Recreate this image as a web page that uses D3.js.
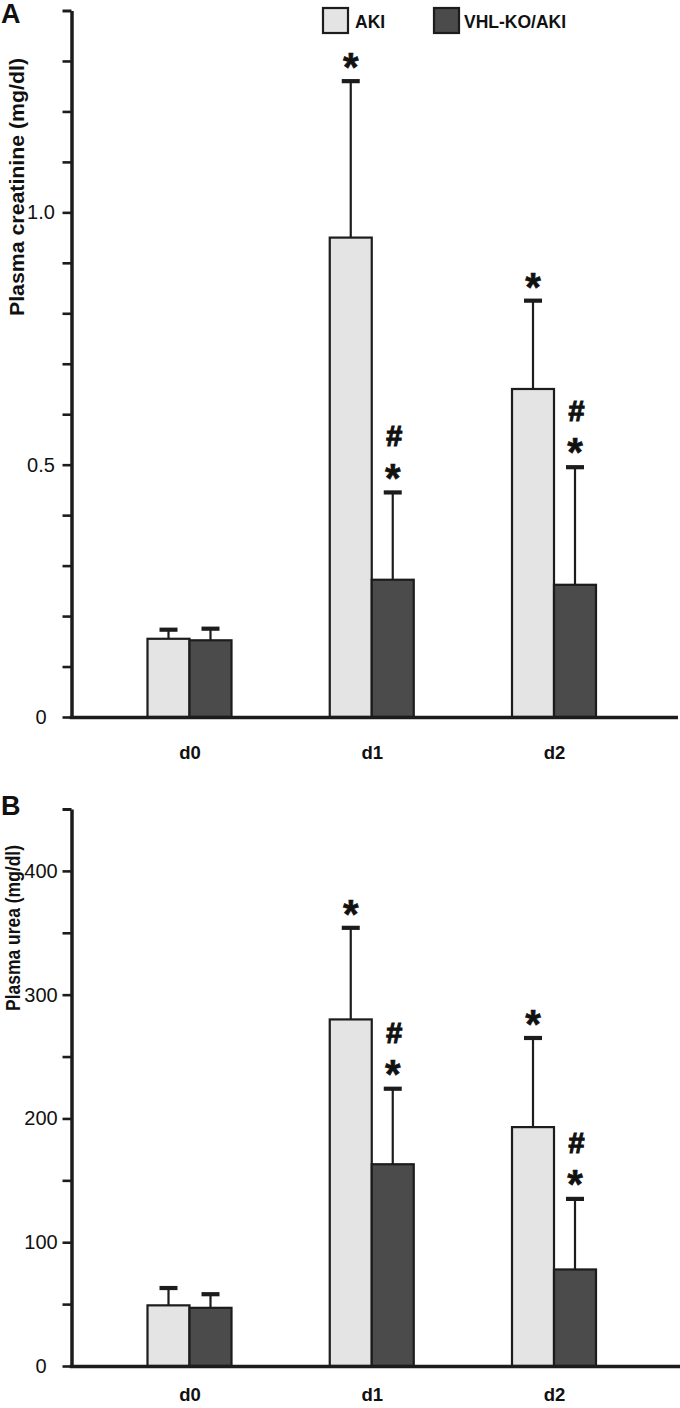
<!DOCTYPE html>
<html>
<head>
<meta charset="utf-8">
<script src="https://cdn.jsdelivr.net/npm/d3@7/dist/d3.min.js"></script>
<style>
  html, body { margin: 0; padding: 0; background: #fff; }
  svg { display: block; }
  text { font-family: "Liberation Sans", Arial, Helvetica, sans-serif; fill: #111; }
</style>
</head>
<body>
<script>
// ---------------- DATA ----------------
const categories = ["d0", "d1", "d2"];
const seriesNames = ["AKI", "VHL-KO/AKI"];

// Panel A: plasma creatinine (mg/dl)
const creatAKI    = [0.155, 0.95, 0.65];
const creatAKIErr = [0.018, 0.31, 0.175];
const creatKO     = [0.152, 0.272, 0.262];
const creatKOErr  = [0.023, 0.173, 0.233];
const creatSigAKI = ["", "*", "*"];
const creatSigKO  = ["", "#*", "#*"];
const creatTickLabels = [0, 0.5, 1.0];
const creatMinorStep = 0.1;
const creatMax = 1.4;

// Panel B: plasma urea (mg/dl)
const ureaAKI    = [49, 280, 193];
const ureaAKIErr = [14, 74, 72];
const ureaKO     = [47, 163, 78];
const ureaKOErr  = [11, 61, 57];
const ureaSigAKI = ["", "*", "*"];
const ureaSigKO  = ["", "#*", "#*"];
const ureaTickLabels = [0, 100, 200, 300, 400];
const ureaMinorStep = 50;
const ureaMax = 450;

// ---------------- LAYOUT ----------------
const W = 680, H = 1408;
const svg = d3.select("body").append("svg").attr("width", W).attr("height", H);

const colors = { "AKI": "#e4e4e4", "VHL-KO/AKI": "#4b4b4b" };
const barW = 42;
const axisX = 71.5;
const ink = "#1c1c1c";

function drawPanel(cfg) {
  const g = svg.append("g");
  const y = d3.scaleLinear().domain([0, cfg.max]).range([cfg.y0, cfg.yTop]);
  const x = d3.scalePoint().domain(categories).range([189.5, 554]);

  const rows = categories.map((c, i) => ({
    cat: c,
    vals: [
      { s: seriesNames[0], v: cfg.aki[i], e: cfg.akiErr[i], sig: cfg.sigAki[i], off: -barW },
      { s: seriesNames[1], v: cfg.ko[i],  e: cfg.koErr[i],  sig: cfg.sigKo[i],  off: 0 }
    ]
  }));
  const bars = rows.flatMap(r => r.vals.map(v => Object.assign({ cat: r.cat }, v)));

  // bars
  g.selectAll("rect.bar").data(bars).join("rect")
    .attr("class", "bar")
    .attr("x", d => x(d.cat) + d.off)
    .attr("y", d => y(d.v))
    .attr("width", barW)
    .attr("height", d => y(0) - y(d.v))
    .attr("fill", d => colors[d.s])
    .attr("stroke", ink)
    .attr("stroke-width", 2.2);

  // error bars (upper only)
  const cxOf = d => x(d.cat) + d.off + barW / 2;
  g.selectAll("line.err").data(bars).join("line")
    .attr("class", "err")
    .attr("x1", cxOf).attr("x2", cxOf)
    .attr("y1", d => y(d.v)).attr("y2", d => y(d.v + d.e))
    .attr("stroke", ink).attr("stroke-width", 2.2);
  g.selectAll("line.cap").data(bars).join("line")
    .attr("class", "cap")
    .attr("x1", d => cxOf(d) - 9).attr("x2", d => cxOf(d) + 9)
    .attr("y1", d => y(d.v + d.e)).attr("y2", d => y(d.v + d.e))
    .attr("stroke", ink).attr("stroke-width", 4.2);

  // significance markers
  const astFs = 40, hashFs = 29;
  bars.forEach(d => {
    const capY = y(d.v + d.e);
    const cx = cxOf(d);
    if (d.sig.includes("*")) {
      const cy = capY - (d.sig.includes("#") ? 24 : 23);
      g.append("text").attr("x", cx).attr("y", cy + 0.58 * astFs)
        .attr("text-anchor", "middle").attr("font-size", astFs).attr("font-weight", "bold")
        .attr("stroke", "#111").attr("stroke-width", 0.6)
        .text("*");
    }
    if (d.sig.includes("#")) {
      const cy = capY - 56;
      g.append("text").attr("x", cx + 1).attr("y", cy + 0.34 * hashFs)
        .attr("text-anchor", "middle").attr("font-size", hashFs).attr("font-weight", "bold")
        .attr("font-style", "italic")
        .attr("stroke", "#111").attr("stroke-width", 1.1)
        .text("#");
    }
  });

  // y axis
  const nTicks = Math.round(cfg.max / cfg.step);
  const tickVals = d3.range(0, nTicks + 1).map(i => +(i * cfg.step).toFixed(6));
  const isLabel = v => cfg.labels.some(l => Math.abs(l - v) < 1e-9);
  const yAxis = d3.axisLeft(y)
    .tickValues(tickVals)
    .tickSize(9)
    .tickSizeOuter(0)
    .tickFormat(v => isLabel(v) ? cfg.fmt(v) : "");
  const ax = g.append("g").attr("transform", `translate(${axisX},0)`).call(yAxis);
  ax.select(".domain").attr("stroke", ink).attr("stroke-width", 3.5);
  ax.selectAll(".tick line").attr("stroke", ink).attr("stroke-width", 2.6);
  ax.selectAll(".tick text")
    .attr("x", -30.5)
    .attr("text-anchor", "middle")
    .attr("font-size", 20)
    .attr("font-family", "'Liberation Sans', Arial, sans-serif")
    .attr("fill", "#111");
  ax.selectAll(".tick").filter(v => v === cfg.max).select("line").attr("stroke-width", 3);

  // x baseline
  g.append("line")
    .attr("x1", axisX - 1.75).attr("x2", cfg.xEnd)
    .attr("y1", y(0) + 0.5).attr("y2", y(0) + 0.5)
    .attr("stroke", ink).attr("stroke-width", 3.6);

  // x labels
  const xAxis = d3.axisBottom(x).tickSize(0).tickPadding(0);
  const xa = g.append("g").attr("transform", `translate(0,${y(0)})`).call(xAxis);
  xa.select(".domain").remove();
  xa.selectAll(".tick text")
    .attr("y", cfg.xLabelDy).attr("dy", 0)
    .attr("font-size", 18.5).attr("font-weight", "bold")
    .attr("font-family", "'Liberation Sans', Arial, sans-serif")
    .attr("fill", "#111");

  // y title
  g.append("text")
    .attr("transform", `translate(${cfg.titleX},${cfg.titleCY}) rotate(-90)`)
    .attr("text-anchor", "middle")
    .attr("font-size", cfg.titleFs).attr("font-weight", "bold")
    .attr("textLength", cfg.titleLen).attr("lengthAdjust", "spacingAndGlyphs")
    .text(cfg.title);

  // panel letter
  g.append("text").attr("x", 1).attr("y", cfg.letterY)
    .attr("font-size", 27).attr("font-weight", "bold").text(cfg.letter);
}

drawPanel({
  aki: creatAKI, akiErr: creatAKIErr, ko: creatKO, koErr: creatKOErr,
  sigAki: creatSigAKI, sigKo: creatSigKO,
  max: creatMax, step: creatMinorStep, labels: creatTickLabels,
  fmt: v => v === 0 ? "0" : v.toFixed(1),
  y0: 717, yTop: 10.5, xEnd: 678, xLabelDy: 42,
  title: "Plasma creatinine (mg/dl)", titleX: 24, titleCY: 187, titleFs: 21, titleLen: 258,
  letter: "A", letterY: 23
});

drawPanel({
  aki: ureaAKI, akiErr: ureaAKIErr, ko: ureaKO, koErr: ureaKOErr,
  sigAki: ureaSigAKI, sigKo: ureaSigKO,
  max: ureaMax, step: ureaMinorStep, labels: ureaTickLabels,
  fmt: v => String(v),
  y0: 1366, yTop: 809, xEnd: 680, xLabelDy: 35,
  title: "Plasma urea (mg/dl)", titleX: 20, titleCY: 928, titleFs: 20, titleLen: 166,
  letter: "B", letterY: 815
});

// legend
const legend = svg.append("g");
const legendX = [323, 434];
seriesNames.forEach((s, i) => {
  legend.append("rect").attr("x", legendX[i]).attr("y", 8).attr("width", 25).attr("height", 25)
    .attr("fill", colors[s]).attr("stroke", ink).attr("stroke-width", 2.2);
  legend.append("text").attr("x", legendX[i] + (i === 0 ? 32 : 30)).attr("y", 28)
    .attr("font-size", 17.5).attr("font-weight", "bold").text(s);
});
</script>
</body>
</html>
